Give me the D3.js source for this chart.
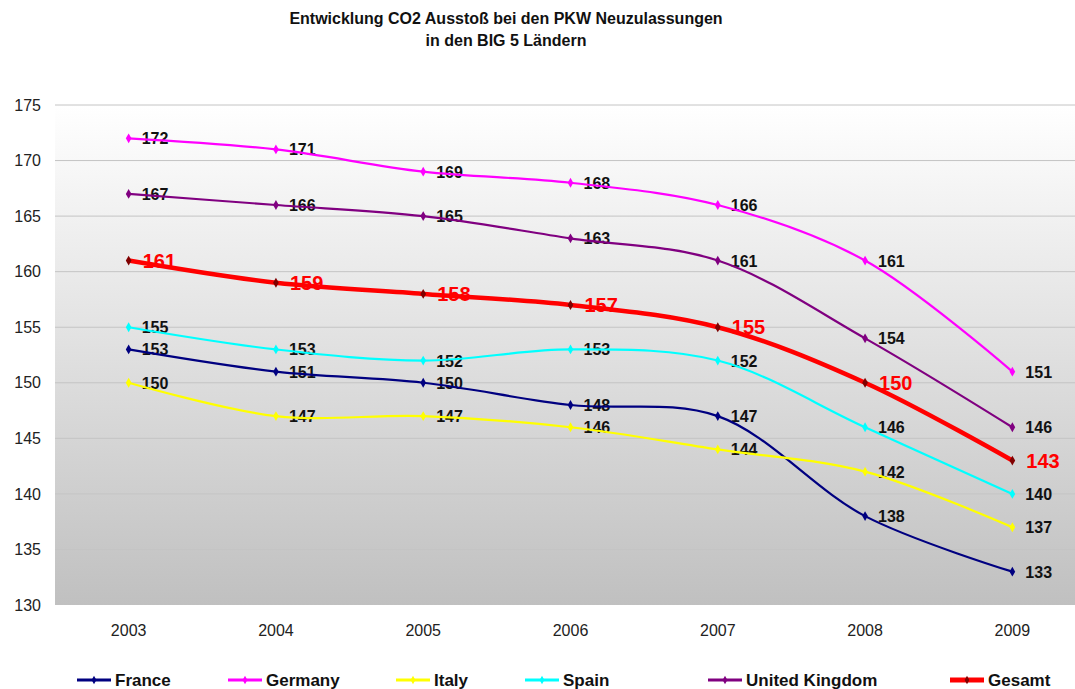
<!DOCTYPE html>
<html>
<head>
<meta charset="utf-8">
<title>Entwicklung CO2 Ausstoß</title>
<script src="https://d3js.org/d3.v7.min.js"></script>
<style>
	body{ margin:0; background:#fff; }
	svg{ display:block; font-family: "Liberation Sans", Arial, sans-serif; }
</style>
</head>
<body>
<script>
	var years = ['2003','2004','2005','2006','2007','2008','2009']
	var france  = [153,151,150,148,147,138,133]
	var germany = [172,171,169,168,166,161,151]
	var italy   = [150,147,147,146,144,142,137]
	var spain   = [155,153,152,153,152,146,140]
	var uk      = [167,166,165,163,161,154,146]
	var gesamt  = [161,159,158,157,155,150,143]
	var yTicks  = [130,135,140,145,150,155,160,165,170,175]

	var series = [
		{name:'France', values:france, color:'#000080'},
		{name:'Germany', values:germany, color:'#ff00ff'},
		{name:'Italy', values:italy, color:'#ffff00'},
		{name:'Spain', values:spain, color:'#00ffff'},
		{name:'United Kingdom', values:uk, color:'#800080'},
		{name:'Gesamt', values:gesamt, color:'#ff0000', marker:'#800000', total:true}
	]

	var W = 1075, H = 689
	var plot = {left:55, right:1086, top:105, bottom:605}

	var svg = d3.select('body').append('svg')
				.attr('width', W)
				.attr('height', H)

	var x = d3.scaleBand().domain(years).range([plot.left, plot.right])
	var y = d3.scaleLinear().domain([130,175]).range([plot.bottom, plot.top])
	var cx = d => x(d) + x.bandwidth()/2

	// background gradient
	var grad = svg.append('defs').append('linearGradient')
				  .attr('id','bg').attr('x1',0).attr('y1',0).attr('x2',0).attr('y2',1)
	grad.append('stop').attr('offset','0%').attr('stop-color','#ffffff')
	grad.append('stop').attr('offset','100%').attr('stop-color','#c0c0c0')

	svg.append('rect')
	   .attr('x', plot.left).attr('y', plot.top)
	   .attr('width', plot.right-plot.left).attr('height', plot.bottom-plot.top)
	   .attr('fill','url(#bg)')

	// grid
	svg.append('g')
	   .selectAll('line').data(yTicks.slice(1)).enter()
	   .append('line')
	   .attr('x1', plot.left).attr('x2', plot.right)
	   .attr('y1', d => y(d)).attr('y2', d => y(d))
	   .attr('stroke','#c4c4c4').attr('stroke-width',1)

	// y axis
	var yAxis = d3.axisLeft(y).tickValues(yTicks).tickSize(0).tickPadding(14)
	var gy = svg.append('g').attr('transform','translate('+plot.left+',0)').call(yAxis)
	gy.select('.domain').remove()
	gy.selectAll('text').style('font-size','16px').attr('fill','#222')

	// x axis
	var xAxis = d3.axisBottom(x).tickSize(0).tickPadding(20)
	var gx = svg.append('g').attr('transform','translate(0,'+plot.bottom+')').call(xAxis)
	gx.select('.domain').remove()
	gx.selectAll('text').style('font-size','16px').attr('fill','#222')

	// title
	var title = svg.append('text')
				   .attr('x', 506).attr('y', 24)
				   .attr('text-anchor','middle')
				   .style('font-size','16px').style('font-weight','bold').attr('fill','#111')
	title.append('tspan').attr('x',506).attr('dy',0).text('Entwicklung CO2 Ausstoß bei den PKW Neuzulassungen')
	title.append('tspan').attr('x',506).attr('dy',22).text('in den BIG 5 Ländern')

	var line = d3.line()
				 .x((d,i) => cx(years[i]))
				 .y(d => y(d))
				 .curve(d3.curveCatmullRom.alpha(0.5))

	var diamond = d3.symbol().type(d3.symbolDiamond).size(28)

	// labels first, lines drawn on top
	series.forEach(function(s){
		svg.append('g').selectAll('text').data(s.values).enter()
		   .append('text')
		   .attr('x', (d,i) => cx(years[i]) + (s.total ? 14 : 13))
		   .attr('y', d => y(d) + (s.total ? 7 : 6))
		   .style('font-size', s.total ? '20px' : '16px')
		   .style('font-weight','bold')
		   .attr('fill', s.total ? '#ff0000' : '#111')
		   .text(d => d)
	})

	series.forEach(function(s){
		var g = svg.append('g')
		g.append('path')
		 .attr('d', line(s.values))
		 .attr('fill','none')
		 .attr('stroke', s.color)
		 .attr('stroke-width', s.total ? 4.5 : 2.2)
		g.selectAll('path.m').data(s.values).enter()
		 .append('path').attr('class','m')
		 .attr('d', diamond)
		 .attr('transform', (d,i) => 'translate('+cx(years[i])+','+y(d)+')')
		 .attr('fill', s.marker || s.color)
	})

	// legend
	var legendX = [77, 228, 396, 525, 708, 950]
	var lg = svg.append('g').selectAll('g').data(series).enter()
				.append('g')
				.attr('transform', (d,i) => 'translate('+legendX[i]+',680)')
	lg.append('line')
	  .attr('x1',0).attr('x2',34).attr('y1',0).attr('y2',0)
	  .attr('stroke', d => d.color)
	  .attr('stroke-width', d => d.total ? 5 : 3)
	lg.append('path')
	  .attr('d', d3.symbol().type(d3.symbolDiamond).size(20))
	  .attr('transform','translate(17,0)')
	  .attr('fill', d => d.marker || d.color)
	lg.append('text')
	  .attr('x', 38).attr('y', 6)
	  .style('font-size','17px').style('font-weight','bold').attr('fill','#111')
	  .text(d => d.name)
</script>
</body>
</html>
